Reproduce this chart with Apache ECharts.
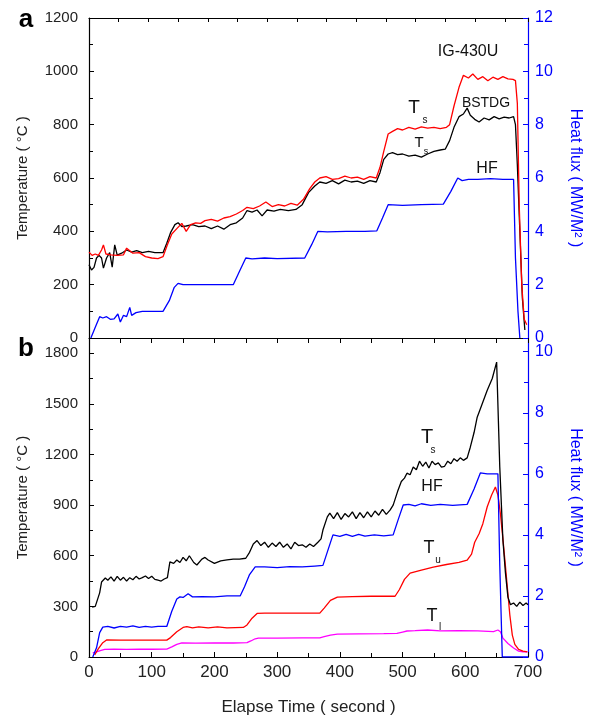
<!DOCTYPE html>
<html><head><meta charset="utf-8">
<script src="https://cdn.jsdelivr.net/npm/echarts@6/dist/echarts.min.js"></script>
<style>html,body{margin:0;padding:0;background:#fff}#c{width:594px;height:720px}</style>
</head><body><div id="c"></div>
<script>
// ---- Panel a (IG-430U) ----
const aRedT = [0,5,10,15,20,23,27,35,45,55,60,70,80,90,100,110,118,125,132,140,148,155,162,170,178,185,195,205,215,225,235,245,252,262,272,282,292,302,312,322,332,342,352,360,368,378,388,398,408,418,428,438,448,458,464,470,477,484,492,500,510,520,530,540,550,560,570,575,582,590,597,605,612,620,628,636,644,652,660,668,676,680,683,686,690,694,698];
const aRedV = [322,310,315,310,330,349,315,312,310,312,337,318,320,305,300,298,305,350,390,410,430,400,425,432,430,440,445,438,450,455,465,478,490,485,495,510,493,500,495,505,498,520,560,585,600,605,595,598,607,600,603,595,605,600,640,700,765,775,785,780,790,783,792,787,790,785,790,800,870,940,985,975,990,970,980,965,978,970,980,972,970,965,880,500,200,70,50];
const aBlkT = [0,4,8,12,16,20,23,28,33,37,41,45,52,60,68,76,85,95,105,118,124,130,137,142,148,155,165,175,185,195,205,215,225,235,245,252,260,268,276,284,295,305,318,330,340,350,360,368,378,388,398,408,418,428,438,448,458,464,470,477,484,492,500,510,520,530,540,550,560,568,575,582,590,597,603,608,615,622,630,638,646,654,662,670,677,680,683,687,691,695];
const aBlkV = [275,255,265,300,310,300,262,300,320,266,349,311,318,330,322,328,320,325,320,320,355,395,425,432,418,420,425,418,420,410,420,408,425,432,450,478,472,480,458,480,476,482,478,482,500,545,570,585,580,590,578,592,585,588,580,590,585,620,670,690,695,688,690,682,686,678,690,700,705,708,740,790,830,840,862,835,820,810,825,818,830,822,828,825,830,800,650,400,150,30];
const aHfT = [3,10,17,22,28,34,40,46,50,55,60,65,68,75,85,100,118,128,136,142,150,190,230,240,250,260,280,300,344,355,365,380,410,440,459,468,477,500,530,565,577,588,595,605,620,640,660,677,680,684,687];
const aHfV = [0,0.4,0.8,0.75,0.8,0.7,0.72,0.9,0.6,0.85,0.8,1.15,0.85,0.95,1.0,1.0,1.0,1.4,1.9,2.05,2.0,2.0,2.0,2.5,3.0,2.97,3.0,2.98,3.0,3.5,4.0,3.98,4.0,4.0,4.02,4.5,5.0,4.97,5.0,5.02,5.5,6.0,5.9,5.95,5.95,5.98,5.95,5.95,3.0,1.0,0];

// ---- Panel b ----
const bTsT = [5,10,13,17,20,26,30,35,40,45,50,55,60,65,70,75,80,85,90,95,100,105,110,115,120,125,129,135,140,145,150,155,160,167,172,180,185,190,200,210,220,230,240,250,256,262,268,274,280,286,292,298,304,310,316,322,328,334,340,346,352,358,365,370,373,380,384,390,396,402,408,414,420,426,432,438,444,450,456,462,468,474,480,485,492,498,503,507,512,517,522,527,532,537,542,547,552,557,562,567,572,577,582,587,592,597,603,608,614,619,626,635,643,650,655,660,664,668,672,677,682,687,692,697,700];
const bTsV = [296,300,305,380,444,468,455,475,450,478,455,472,450,470,458,478,462,470,480,465,478,460,455,450,462,470,563,555,575,560,590,570,600,560,545,580,590,575,555,570,575,580,580,585,620,670,690,660,680,650,675,655,680,650,670,640,680,660,665,650,670,655,680,700,752,830,853,820,855,815,850,830,860,820,855,825,860,830,865,840,875,845,870,900,980,1040,1060,1089,1080,1125,1110,1160,1130,1155,1120,1160,1140,1150,1125,1130,1160,1145,1175,1160,1180,1165,1180,1243,1330,1421,1490,1580,1650,1747,1125,693,500,355,310,320,300,325,305,320,310];
const bHfT = [6,12,17,22,30,40,50,60,70,80,90,100,110,124,132,140,145,150,158,165,180,200,220,241,248,256,265,280,300,320,340,360,373,381,389,400,410,420,430,440,455,470,485,493,501,510,520,530,545,560,580,603,614,624,635,645,652,655,659,700];
const bHfV = [0,0.3,0.8,0.98,1.0,0.95,1.0,0.98,1.02,0.97,1.0,0.98,1.0,1.0,1.5,1.9,1.97,1.95,2.07,1.97,1.98,1.97,2.0,2.0,2.3,2.7,2.95,2.95,2.93,2.96,2.95,2.98,3.0,3.5,4.0,3.95,4.02,3.95,4.02,3.96,4.0,3.97,4.0,4.5,4.98,5.0,4.95,5.02,4.97,5.0,4.97,5.0,5.5,6.03,6.0,6.0,6.0,3.0,0,0];
const bTuT = [9,15,22,28,50,80,100,124,130,140,150,156,165,175,190,205,220,246,252,260,268,280,300,330,368,375,385,396,420,450,488,495,503,512,530,549,570,590,603,610,615,622,628,635,642,648,652,656,660,664,667,671,675,679,685,692,699];
const bTuV = [12,50,85,101,100,100,100,100,115,150,175,180,172,178,172,178,172,175,190,230,258,260,260,260,260,290,335,355,358,360,360,400,460,497,515,533,548,560,574,610,680,730,790,890,960,1007,960,850,700,540,415,250,130,75,45,35,30];
const bTlT = [6,12,18,25,40,60,80,100,124,132,140,148,170,200,230,252,258,265,270,300,340,368,375,385,396,430,470,491,500,507,520,540,560,590,620,645,652,656,660,668,677,685,692,699];
const bTlV = [24,30,38,45,46,45,47,46,47,60,75,83,82,84,83,85,95,108,112,112,113,113,120,130,136,137,138,140,148,154,156,160,155,156,155,150,160,150,112,80,53,35,30,30];

const zip = (t, v) => t.map((x, i) => [x, v[i]]);
const FONT = 'Liberation Sans, Arial, sans-serif';
const BLUE = '#0000ff';
const plain = v => String(v);

function line(name, xi, yi, t, v, color) {
  return { name, type: 'line', xAxisIndex: xi, yAxisIndex: yi, data: zip(t, v),
    showSymbol: false, symbol: 'none', lineStyle: { color, width: 1.3 }, itemStyle: { color },
    animation: false, silent: true };
}

const chart = echarts.init(document.getElementById('c'), null, { renderer: 'canvas' });
const txt = (text, x, y, size, opt) => Object.assign({ type: 'text', x, y,
  style: Object.assign({ text, fontSize: size, fontFamily: FONT, fill: '#111', align: 'center', verticalAlign: 'middle' }, opt || {}) });

chart.setOption({
  animation: false,
  backgroundColor: '#fff',
  grid: [
    { left: 89, top: 18, width: 439, height: 320 },
    { left: 89, top: 338, width: 439, height: 319 }
  ],
  xAxis: [
    { gridIndex: 0, type: 'value', min: 0, max: 700, interval: 50, position: 'bottom',
      axisLine: { show: true, onZero: false, lineStyle: { color: '#000', width: 1.2 } },
      axisTick: { show: true, inside: false, length: 5, lineStyle: { color: '#000' } },
      axisLabel: { show: false }, splitLine: { show: false } },
    { gridIndex: 1, type: 'value', min: 0, max: 700, interval: 100, position: 'bottom',
      axisLine: { show: true, onZero: false, lineStyle: { color: '#000', width: 1.2 } },
      axisTick: { show: true, inside: true, length: 5, lineStyle: { color: '#000' } },
      minorTick: { show: true, splitNumber: 2, length: 4, lineStyle: { color: '#000' } },
      axisLabel: { show: true, fontSize: 17, fontFamily: FONT, color: '#222', margin: 7, formatter: plain },
      splitLine: { show: false },
      name: 'Elapse Time ( second )', nameLocation: 'middle', nameGap: 42,
      nameTextStyle: { fontSize: 17, fontFamily: FONT, color: '#222' } },
    { gridIndex: 0, type: 'value', min: 0, max: 14.78, interval: 1, position: 'top',
      axisLine: { show: true, onZero: false, lineStyle: { color: '#000', width: 1.2 } },
      axisTick: { show: true, inside: true, length: 4, lineStyle: { color: '#000' } },
      axisLabel: { show: false }, splitLine: { show: false } }
  ],
  yAxis: [
    { gridIndex: 0, type: 'value', min: 0, max: 1200, interval: 200, position: 'left',
      axisLine: { show: true, onZero: false, lineStyle: { color: '#000', width: 1.2 } },
      axisTick: { show: true, inside: true, length: 5, lineStyle: { color: '#000' } },
      minorTick: { show: true, splitNumber: 2, length: 4, lineStyle: { color: '#000' } },
      axisLabel: { fontSize: 15, fontFamily: FONT, color: '#222', margin: 11, formatter: plain },
      splitLine: { show: false },
      name: 'Temperature ( °C )', nameLocation: 'middle', nameGap: 59, nameRotate: 90,
      nameTextStyle: { fontSize: 15, fontFamily: FONT, color: '#222' } },
    { gridIndex: 0, type: 'value', min: 0, max: 12, interval: 2, position: 'right',
      axisLine: { show: true, onZero: false, lineStyle: { color: BLUE, width: 1.2 } },
      axisTick: { show: true, inside: true, length: 5, lineStyle: { color: BLUE } },
      minorTick: { show: true, splitNumber: 2, length: 4, lineStyle: { color: BLUE } },
      axisLabel: { fontSize: 16, fontFamily: FONT, color: BLUE, margin: 7, formatter: plain },
      splitLine: { show: false },
      name: 'Heat flux ( MW/M² )', nameLocation: 'middle', nameGap: 39, nameRotate: -90,
      nameTextStyle: { fontSize: 16, fontFamily: FONT, color: BLUE } },
    { gridIndex: 1, type: 'value', min: 0, max: 1890, interval: 300, position: 'left',
      axisLine: { show: true, onZero: false, lineStyle: { color: '#000', width: 1.2 } },
      axisTick: { show: true, inside: true, length: 5, lineStyle: { color: '#000' } },
      minorTick: { show: true, splitNumber: 2, length: 4, lineStyle: { color: '#000' } },
      axisLabel: { fontSize: 15, fontFamily: FONT, color: '#222', margin: 11, showMaxLabel: false, formatter: plain },
      splitLine: { show: false },
      name: 'Temperature ( °C )', nameLocation: 'middle', nameGap: 59, nameRotate: 90,
      nameTextStyle: { fontSize: 15, fontFamily: FONT, color: '#222' } },
    { gridIndex: 1, type: 'value', min: 0, max: 10.45, interval: 2, position: 'right',
      axisLine: { show: true, onZero: false, lineStyle: { color: BLUE, width: 1.2 } },
      axisTick: { show: true, inside: true, length: 5, lineStyle: { color: BLUE } },
      minorTick: { show: true, splitNumber: 2, length: 4, lineStyle: { color: BLUE } },
      axisLabel: { fontSize: 16, fontFamily: FONT, color: BLUE, margin: 7, showMaxLabel: false, formatter: plain },
      splitLine: { show: false },
      name: 'Heat flux ( MW/M² )', nameLocation: 'middle', nameGap: 39, nameRotate: -90,
      nameTextStyle: { fontSize: 16, fontFamily: FONT, color: BLUE } }
  ],
  series: [
    line('HF a', 0, 1, aHfT, aHfV, BLUE),
    line('Ts a black', 0, 0, aBlkT, aBlkV, '#000'),
    line('Ts a red', 0, 0, aRedT, aRedV, '#ff0000'),
    line('Tl b', 1, 2, bTlT, bTlV, '#ff00ff'),
    line('Tu b', 1, 2, bTuT, bTuV, '#ff0000'),
    line('HF b', 1, 3, bHfT, bHfV, BLUE),
    line('Ts b', 1, 2, bTsT, bTsV, '#000')
  ],
  graphic: [
    txt('a', 26, 20, 26, { fontWeight: 'bold', fill: '#000' }),
    txt('b', 26, 349, 26, { fontWeight: 'bold', fill: '#000' }),
    txt('IG-430U', 468, 52, 16),
    txt('T', 414, 108, 19), txt('s', 425, 120, 10),
    txt('BSTDG', 486, 103, 14),
    txt('T', 419, 143, 15), txt('s', 426, 152, 9),
    txt('HF', 487, 169, 16),
    txt('T', 427, 437, 20), txt('s', 433, 450, 10),
    txt('HF', 432, 487, 16),
    txt('T', 429, 548, 18), txt('u', 438, 560, 10),
    txt('T', 432, 616, 18), txt('l', 440, 627, 10)
  ]
});
</script>
</body></html>
